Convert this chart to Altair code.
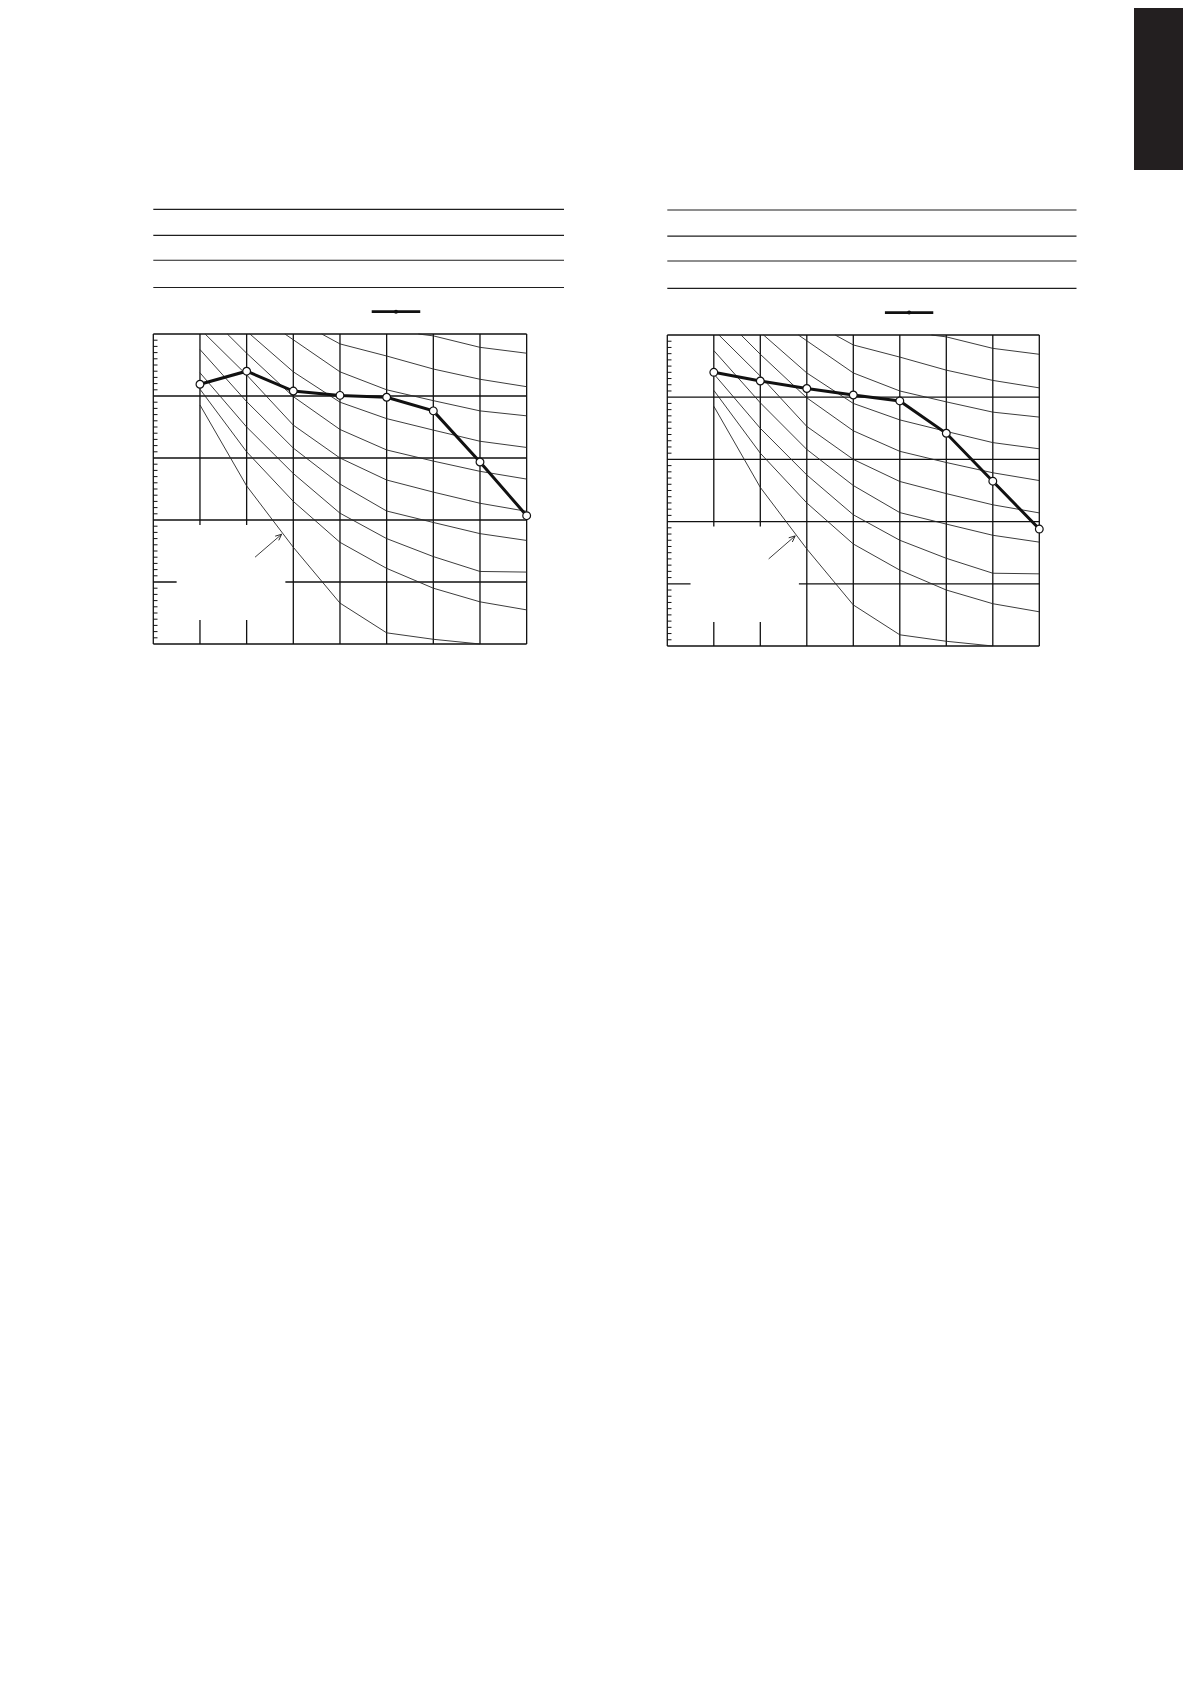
import altair as alt
import pandas as pd

# ---------------- data ----------------
# gridline positions (8 columns x 5 rows of the graph paper)
GRID_X = [0, 1, 2, 3, 4, 5, 6, 7, 8]
GRID_Y = [0, 1, 2, 3, 4, 5]
MINOR_Y = [k / 10 for k in range(1, 50) if k % 10]

# blank table rows above the graphs (text removed in the reference)
TABLE_Y = [7.01, 6.59, 6.19, 5.75]

# family of thin reference curves (same in both graphs)
C1_X = [1, 2, 3, 4, 5, 6, 7]
C1_Y = [3.855, 2.55, 1.56, 0.66, 0.18, 0.076, 0.0]
C2_X = [1, 2, 3, 4, 5, 6, 7, 8]
C2_Y = [4.11, 3.10, 2.30, 1.64, 1.22, 0.90, 0.68, 0.55]
C3_X = [1, 2, 3, 4, 5, 6, 7, 8]
C3_Y = [4.375, 3.50, 2.75, 2.11, 1.70, 1.41, 1.17, 1.16]
C4_X = [1, 2, 3, 4, 5, 6, 7, 8]
C4_Y = [4.75, 3.91, 3.16, 2.58, 2.145, 1.96, 1.78, 1.67]
C5_X = [1.11, 2, 3, 4, 5, 6, 7, 8]
C5_Y = [5.0, 4.34, 3.53, 3.0, 2.645, 2.45, 2.27, 2.14]
C6_X = [1.586, 2, 3, 4, 5, 6, 7, 8]
C6_Y = [5.0, 4.69, 3.99, 3.46, 3.13, 2.95, 2.785, 2.66]
C7_X = [2.07, 3, 4, 5, 6, 7, 8]
C7_Y = [5.0, 4.39, 3.90, 3.635, 3.45, 3.27, 3.17]
C8_X = [2.82, 4, 5, 6, 7, 8]
C8_Y = [5.0, 4.39, 4.10, 3.925, 3.76, 3.68]
C9_X = [3.61, 4, 5, 6, 7, 8]
C9_Y = [5.0, 4.84, 4.645, 4.435, 4.27, 4.15]
C10_X = [5.68, 6, 7, 8]
C10_Y = [5.0, 4.97, 4.785, 4.69]
CURVES = [(C1_X, C1_Y), (C2_X, C2_Y), (C3_X, C3_Y), (C4_X, C4_Y), (C5_X, C5_Y),
          (C6_X, C6_Y), (C7_X, C7_Y), (C8_X, C8_Y), (C9_X, C9_Y), (C10_X, C10_Y)]

# measured series
MAIN_X = [1, 2, 3, 4, 5, 6, 7, 8]
LEFT_Y = [4.19, 4.40, 4.08, 4.01, 3.98, 3.76, 2.935, 2.07]
RIGHT_Y = [4.40, 4.26, 4.14, 4.035, 3.94, 3.42, 2.65, 1.88]

# legend sample, blanked label box, pointer arrow
LEGEND_X = [4.68, 5.72]
LEGEND_Y = 5.36
LEGEND_DOT_X = 5.2
BOX_X = [0.50, 2.83]
BOX_Y = [0.387, 1.92]
ARROW_X = [2.18, 2.75]
ARROW_Y = [1.40, 1.77]


def panel(main_y, xa, xb, ya, yb, W, H, tab=None):
    def X(f="x"):
        return alt.X(f"{f}:Q", scale=alt.Scale(domain=[xa, xb], nice=False, zero=False), axis=None)

    def Y(f="y"):
        return alt.Y(f"{f}:Q", scale=alt.Scale(domain=[ya, yb], nice=False, zero=False), axis=None)

    layers = []
    table = pd.DataFrame({"x": 0.0, "x2": 8.8, "y": TABLE_Y})
    layers.append(alt.Chart(table).mark_rule(color="#1e1e1e", strokeWidth=1.1)
                  .encode(x=X(), x2="x2:Q", y=Y()))
    leg = pd.DataFrame({"x": [LEGEND_X[0]], "x2": [LEGEND_X[1]], "y": [LEGEND_Y]})
    layers.append(alt.Chart(leg).mark_rule(color="#111111", strokeWidth=2.8)
                  .encode(x=X(), x2="x2:Q", y=Y()))
    dot = pd.DataFrame({"x": [LEGEND_DOT_X], "y": [LEGEND_Y]})
    layers.append(alt.Chart(dot).mark_circle(color="#111111", size=16, opacity=1)
                  .encode(x=X(), y=Y()))

    gv = pd.DataFrame({"x": GRID_X, "y": 0.0, "y2": 5.0})
    layers.append(alt.Chart(gv).mark_rule(color="#111111", strokeWidth=1.3)
                  .encode(x=X(), y=Y(), y2="y2:Q"))
    gh = pd.DataFrame({"y": GRID_Y, "x": 0.0, "x2": 8.0})
    layers.append(alt.Chart(gh).mark_rule(color="#111111", strokeWidth=1.3)
                  .encode(x=X(), x2="x2:Q", y=Y()))
    mt = pd.DataFrame({"y": MINOR_Y, "x": 0.0, "x2": 0.09})
    layers.append(alt.Chart(mt).mark_rule(color="#111111", strokeWidth=1)
                  .encode(x=X(), x2="x2:Q", y=Y()))

    box = pd.DataFrame({"x": [BOX_X[0]], "x2": [BOX_X[1]], "y": [BOX_Y[0]], "y2": [BOX_Y[1]]})
    layers.append(alt.Chart(box).mark_rect(color="white", opacity=1)
                  .encode(x=X(), x2="x2:Q", y=Y(), y2="y2:Q"))

    rows = []
    for ci, (cx, cy) in enumerate(CURVES):
        for k, (a, b) in enumerate(zip(cx, cy)):
            rows.append({"curve": ci, "order": k, "x": a, "y": b})
    cdf = pd.DataFrame(rows)
    layers.append(alt.Chart(cdf).mark_line(color="#262626", strokeWidth=0.9)
                  .encode(x=X(), y=Y(), detail="curve:N", order="order:Q"))

    arr = pd.DataFrame({"x": ARROW_X, "y": ARROW_Y})
    layers.append(alt.Chart(arr).mark_line(color="#262626", strokeWidth=0.9)
                  .encode(x=X(), y=Y()))
    tip = pd.DataFrame({"x": [ARROW_X[1]], "y": [ARROW_Y[1]]})
    layers.append(alt.Chart(tip).mark_point(shape="M-1,-0.45L0,0L-1,0.45", filled=False,
                                             color="#262626", strokeWidth=0.9, size=150,
                                             angle=319.3, opacity=1)
                  .encode(x=X(), y=Y()))

    mdf = pd.DataFrame({"x": MAIN_X, "y": main_y})
    layers.append(alt.Chart(mdf).mark_line(color="#111111", strokeWidth=3.0)
                  .encode(x=X(), y=Y()))
    layers.append(alt.Chart(mdf).mark_point(shape="circle", filled=True, fill="white",
                                             stroke="#111111", strokeWidth=1.2, size=60, opacity=1)
                  .encode(x=X(), y=Y()))

    if tab is not None:
        tdf = pd.DataFrame({"x": [tab[0]], "x2": [xb], "y": [tab[1]], "y2": [yb]})
        layers.append(alt.Chart(tdf).mark_rect(color="#231f20", opacity=1)
                      .encode(x=X(), x2="x2:Q", y=Y(), y2="y2:Q"))

    return alt.layer(*layers).properties(width=W, height=H)


# left graph: plot origin at page (153.3, 644), 46.67 px per column, 62 px per row
lx_a = -(153.3 - 8) / 46.67
lW = 556
lx_b = lx_a + lW / 46.67
ly_b = (644 - 8) / 62
lH = 660
ly_a = ly_b - lH / 62

# right graph: plot origin at page (667.3, 646), 46.5 px per column, 62.2 px per row
SP = 20
r_left = 8 + lW + SP
rx_a = -(667.3 - r_left) / 46.5
rW = 1183 - r_left
rx_b = rx_a + rW / 46.5
ry_b = (646 - 8) / 62.2
rH = 660
ry_a = ry_b - rH / 62.2
TAB = ((1134 - 667.3) / 46.5, (646 - 170) / 62.2)

left = panel(LEFT_Y, lx_a, lx_b, ly_a, ly_b, lW, lH)
right = panel(RIGHT_Y, rx_a, rx_b, ry_a, ry_b, rW, rH, tab=TAB)

chart = (alt.hconcat(left, right, spacing=SP, bounds="flush")
         .properties(padding=0)
         .configure_view(strokeWidth=0))

chart.save("out.html", embed_options={"renderer": "svg", "actions": False})
